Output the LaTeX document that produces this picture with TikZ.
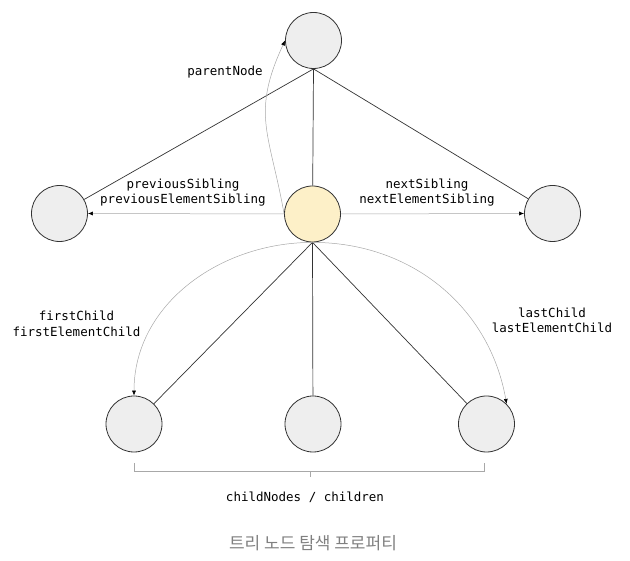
\documentclass[tikz,border=0pt]{standalone}
\usepackage{fontspec}
\setmonofont{DejaVu Sans Mono}
\newfontfamily\krfont{Noto Sans CJK KR}
\usetikzlibrary{arrows.meta}
\definecolor{nodefill}{HTML}{EEEEEE}
\definecolor{curfill}{HTML}{FDF0C8}
\definecolor{edgecol}{HTML}{333333}
\definecolor{navcol}{HTML}{A8A8A8}
\tikzset{
    treenode/.style={circle, draw=edgecol, fill=nodefill, line width=0.8pt, minimum size=56pt, inner sep=0pt},
    curnode/.style={treenode, fill=curfill},
    edge/.style={draw=edgecol, line width=0.7pt},
    nav/.style={draw=navcol, line width=0.5pt, -{Latex[length=5pt,width=4pt,color=black]}},
    proplabel/.style={font=\ttfamily\fontsize{12.5}{15.5}\selectfont, align=center, inner sep=0pt}
}
\begin{document}
\begin{tikzpicture}[x=1pt, y=1pt]
            \useasboundingbox (0,0) rectangle (630,561);

            \node[treenode] (parent) at (313.5,520.5) {};
            \node[curnode] (cur) at (312.5,347) {};
            \node[treenode] (prev) at (59.5,347.5) {};
            \node[treenode] (next) at (552.5,347.5) {};
            \node[treenode] (first) at (134,137) {};
            \node[treenode] (mid) at (313,137) {};
            \node[treenode] (last) at (486.5,137) {};

            \draw[edge] (parent.south) -- (prev);
            \draw[edge] (parent.south) -- (cur);
            \draw[edge] (parent.south) -- (next);
            \draw[edge] (cur.south) -- (first);
            \draw[edge] (cur.south) -- (mid);
            \draw[edge] (cur.south) -- (last);

            \draw[nav] (cur.west) to[out=100, in=245, looseness=1.2] (parent.west);
            \draw[nav] (cur.west) -- (prev.east);
            \draw[nav] (cur.east) -- (next.west);
            \draw[nav] (cur.south) to[out=180, in=90] (first.north);
            \draw[nav] (cur.south) to[out=0, in=100] (last.45);

            \node[proplabel] (lparent) at (225,489) {parentNode};
            \node[proplabel] (lprev) at (183,368.5) {previousSibling\\previousElementSibling};
            \node[proplabel] (lnext) at (427,368.5) {nextSibling\\nextElementSibling};
            \node[proplabel] (lfirst) at (76.5,237) {firstChild\\firstElementChild};
            \node[proplabel] (llast) at (552,240.5) {lastChild\\lastElementChild};

            \coordinate (bl) at (134,98);
            \coordinate (br) at (484,98);
            \draw[navcol, line width=0.6pt] (bl) -- ++(0,-8) -| (br);
            \draw[navcol, line width=0.6pt] (310,90) -- ++(0,-6);
            \node[proplabel] (lchildren) at (305,64) {childNodes / children};

            \node[font=\krfont\fontsize{17}{20}\selectfont, text=gray] (caption) at (313,18) {트리 노드 탐색 프로퍼티};
        \end{tikzpicture}
\end{document}
